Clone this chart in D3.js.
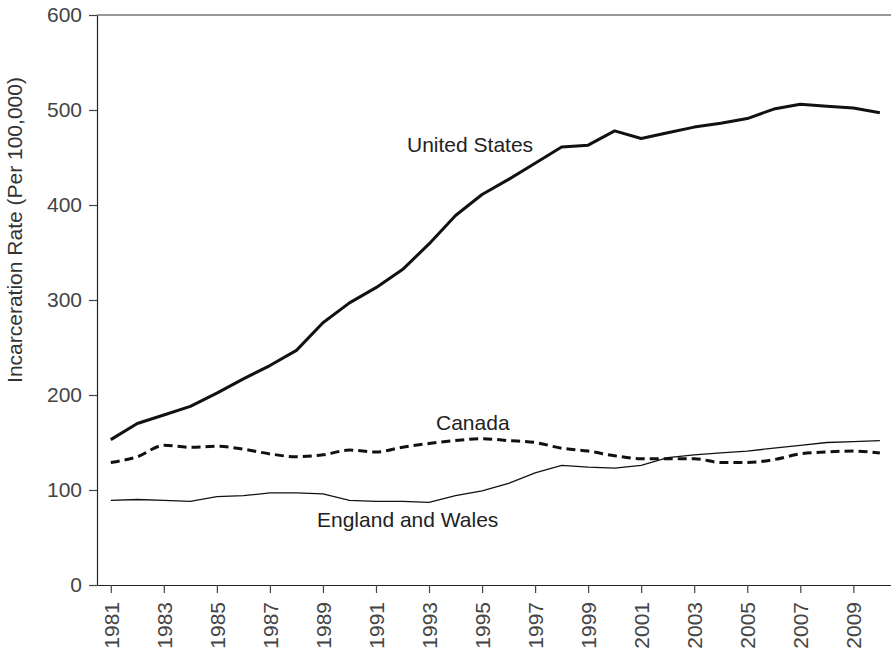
<!DOCTYPE html>
<html>
<head>
<meta charset="utf-8">
<script src="https://cdn.jsdelivr.net/npm/d3@7"></script>
<style>
  body { margin: 0; background: #fff; }
  text { font-family: "Liberation Sans", Arial, sans-serif; }
</style>
</head>
<body>
<div id="chart"></div>
<script>
const years = d3.range(1981, 2011);
const unitedStates = [153, 170, 179, 188, 202, 217, 231, 247, 276, 297,
  313, 332, 359, 389, 411, 427, 444, 461, 463, 478,
  470, 476, 482, 486, 491, 501, 506, 504, 502, 497];
const canada = [129, 135, 147, 145, 146, 143, 138, 135, 137, 142,
  140, 145, 149, 152, 154, 152, 150, 144, 141, 136,
  133, 133, 133, 129, 129, 132, 138, 140, 141, 139];
const englandWales = [89, 90, 89, 88, 93, 94, 97, 97, 96, 89,
  88, 88, 87, 94, 99, 107, 118, 126, 124, 123,
  126, 134, 137, 139, 141, 144, 147, 150, 151, 152];
const yTicks = [0, 100, 200, 300, 400, 500, 600];
const xTicks = d3.range(1981, 2011, 2);

const width = 891, height = 651;
const svg = d3.select("#chart").append("svg")
  .attr("width", width)
  .attr("height", height);

const x = d3.scaleLinear().domain([1980.48, 2010.42]).range([97, 891]);
const y = d3.scaleLinear().domain([0, 600]).range([585, 15]);

// top border
svg.append("line")
  .attr("x1", x.range()[0]).attr("x2", x.range()[1])
  .attr("y1", y(600)).attr("y2", y(600))
  .attr("stroke", "#333").attr("stroke-width", 1.2);

const yAxis = svg.append("g")
  .attr("transform", `translate(${x.range()[0]},0)`)
  .call(d3.axisLeft(y).tickValues(yTicks).tickSize(8).tickSizeOuter(0).tickPadding(7));

const xAxis = svg.append("g")
  .attr("transform", `translate(0,${y(0)})`)
  .call(d3.axisBottom(x).tickValues(xTicks).tickSize(8).tickSizeOuter(0).tickFormat(d3.format("d")));

xAxis.selectAll("text")
  .attr("transform", "rotate(-90)")
  .attr("x", -17)
  .attr("y", 0)
  .attr("dy", "0.35em")
  .style("text-anchor", "end");

[yAxis, xAxis].forEach(a => {
  a.select(".domain").attr("stroke", "#222").attr("stroke-width", 1.2);
  a.selectAll(".tick line").attr("stroke", "#444").attr("stroke-width", 1.2);
  a.selectAll(".tick text").attr("fill", "#444").style("font-size", "21px")
    .style("font-family", '"Liberation Sans", Arial, sans-serif');
});

svg.append("text")
  .attr("transform", "translate(15,230) rotate(-90)")
  .attr("text-anchor", "middle")
  .attr("dy", "0.35em")
  .attr("fill", "#333")
  .style("font-size", "21px")
  .text("Incarceration Rate (Per 100,000)");

const line = d3.line().x((d, i) => x(years[i])).y(d => y(d));
const smooth = d3.line().x((d, i) => x(years[i])).y(d => y(d)).curve(d3.curveMonotoneX);

svg.append("path").datum(englandWales)
  .attr("d", line).attr("fill", "none")
  .attr("stroke", "#111").attr("stroke-width", 1.3);

svg.append("path").datum(canada)
  .attr("d", smooth).attr("fill", "none")
  .attr("stroke", "#111").attr("stroke-width", 3)
  .attr("stroke-dasharray", "9,5");

svg.append("path").datum(unitedStates)
  .attr("d", line).attr("fill", "none")
  .attr("stroke", "#111").attr("stroke-width", 3)
  .attr("stroke-linejoin", "round");

const labels = [
  { text: "United States", x: 407, y: 152 },
  { text: "Canada", x: 436, y: 430 },
  { text: "England and Wales", x: 317, y: 527 }
];
svg.selectAll(".series-label").data(labels).enter().append("text")
  .attr("class", "series-label")
  .attr("x", d => d.x).attr("y", d => d.y)
  .attr("fill", "#222")
  .style("font-size", "21px")
  .text(d => d.text);
</script>
</body>
</html>
